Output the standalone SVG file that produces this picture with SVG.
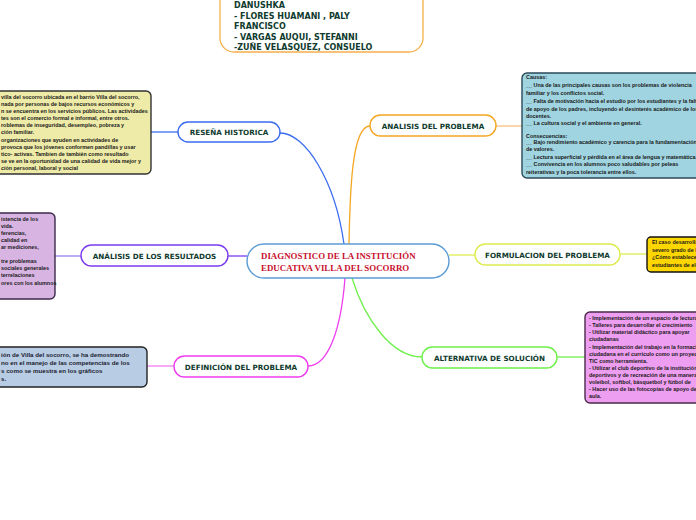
<svg xmlns="http://www.w3.org/2000/svg" width="696" height="520" viewBox="0 0 696 520">
<style>
.lbl{font-family:"DejaVu Sans",Verdana,sans-serif;font-weight:bold;font-size:7.2px;fill:#0f3b2e}
.top{font-family:"DejaVu Sans",Verdana,sans-serif;font-weight:bold;font-size:8px;fill:#0f3b2e}
.ctr{font-family:"Liberation Serif","Times New Roman",serif;font-weight:bold;font-size:8.9px;fill:#c8102e}
.sm{font-family:"Liberation Sans",Arial,sans-serif;font-weight:bold;font-size:5.4px;fill:#1a1a1a}
.md{font-family:"Liberation Sans",Arial,sans-serif;font-weight:bold;font-size:6.2px;fill:#1a1a2e}
.node{fill:#fff;stroke-width:1.4}
.box{stroke-width:1.4}
.cn{fill:none;stroke-width:1.3}
</style>
<rect width="696" height="520" fill="#fff"/>
<g id="connectors">
<path class="cn" stroke="#3b6cf0" d="M280,133 C305,133 335,180 344,244"/>
<path class="cn" stroke="#3b6cf0" d="M151,132 L178,132"/>
<path class="cn" stroke="#f5a623" d="M349,244 C350,190 352,126 370,126"/>
<path class="cn" stroke="#f5c07a" d="M496,126 L522,126"/>
<path class="cn" stroke="#7b3cf0" d="M228,256 L247,256"/>
<path class="cn" stroke="#9a7cf0" d="M55,256 L81,256"/>
<path class="cn" stroke="#dcec50" d="M449,255 L475,255"/>
<path class="cn" stroke="#dcec50" d="M620,254 L647,254"/>
<path class="cn" stroke="#6ef04a" d="M352,278 C365,320 392,357 422,357"/>
<path class="cn" stroke="#6ef04a" d="M557,357 L585,357"/>
<path class="cn" stroke="#f03cf0" d="M345,278 C341,330 328,366 308,366"/>
<path class="cn" stroke="#f07cf0" d="M147,366 L174,366"/>
</g>
<g id="authors">
<rect x="220" y="-20" width="203" height="72" rx="14" fill="#fff" stroke="#f6b04a" stroke-width="1.3"/>
<text class="top" x="234" y="8">DANUSHKA</text>
<text class="top" x="234" y="19">- FLORES HUAMANI , PALY</text>
<text class="top" x="234" y="29">FRANCISCO</text>
<text class="top" x="234" y="40">- VARGAS AUQUI, STEFANNI</text>
<text class="top" x="234" y="50">-ZUÑE VELASQUEZ, CONSUELO</text>
</g>
<g id="center">
<rect class="node" x="247" y="244" width="202" height="34" rx="17" stroke="#5b9bd5"/>
<text class="ctr" x="261" y="259">DIAGNOSTICO DE LA INSTITUCIÓN</text>
<text class="ctr" x="261" y="271">EDUCATIVA VILLA DEL SOCORRO</text>
</g>
<g id="resena">
<rect class="node" x="178" y="122" width="102" height="20" rx="10" stroke="#3b6cf0"/>
<text class="lbl" x="229" y="135" text-anchor="middle">RESEÑA HISTORICA</text>
</g>
<g id="resena-text">
<rect class="box" x="-6" y="91" width="157" height="83" rx="5" fill="#eeeaa8" stroke="#333"/>
<text class="sm" x="1" y="99">villa del socorro ubicada en el barrio Villa del socorro,</text>
<text class="sm" x="1" y="106">nada por personas de bajos recursos económicos y</text>
<text class="sm" x="1" y="113">n se encuentra en los servicios públicos. Las actividades</text>
<text class="sm" x="1" y="120">tes son el comercio formal e informal, entre otros.</text>
<text class="sm" x="1" y="127">roblemas de inseguridad, desempleo, pobreza y</text>
<text class="sm" x="1" y="134">ción familiar.</text>
<text class="sm" x="1" y="142">organizaciones que ayuden en actividades de</text>
<text class="sm" x="1" y="149">provoca que los jóvenes conformen pandillas y usar</text>
<text class="sm" x="1" y="156">tico- activas. Tambien de también como resultado</text>
<text class="sm" x="1" y="163">se ve en la oportunidad de una calidad de vida mejor y</text>
<text class="sm" x="1" y="170">ción personal, laboral y social</text>
</g>
<g id="analisis">
<rect class="node" x="370" y="115" width="126" height="21" rx="10.5" stroke="#f5a623"/>
<text class="lbl" x="433" y="128.5" text-anchor="middle">ANALISIS DEL PROBLEMA</text>
</g>
<g id="analisis-text">
<rect class="box" x="522" y="73" width="184" height="105" rx="5" fill="#9fd4e0" stroke="#2b4a5a"/>
<text class="sm" x="526" y="79">Causas:</text>
<text class="sm" x="526" y="87">__ Una de las principales causas son los problemas de violencia</text>
<text class="sm" x="526" y="95">familiar y los conflictos social.</text>
<text class="sm" x="526" y="103">__ Falta de motivación hacia el estudio por los estudiantes y la falta</text>
<text class="sm" x="526" y="111">de apoyo de los padres, incluyendo el desinterés académico de los</text>
<text class="sm" x="526" y="118">docentes.</text>
<text class="sm" x="526" y="125">__ La cultura social y el ambiente en general.</text>
<text class="sm" x="526" y="138">Consecuencias:</text>
<text class="sm" x="526" y="144">__ Bajo rendimiento académico y carencia para la fundamentación</text>
<text class="sm" x="526" y="151">de valores.</text>
<text class="sm" x="526" y="159">__ Lectura superficial y pérdida en el área de lengua y matemática.</text>
<text class="sm" x="526" y="166">__ Convivencia en los alumnos poco saludables por peleas</text>
<text class="sm" x="526" y="174">reiterativas y la poca tolerancia entre ellos.</text>
</g>
<g id="resultados">
<rect class="node" x="81" y="245" width="147" height="21" rx="10.5" stroke="#7b3cf0"/>
<text class="lbl" x="154.5" y="258.5" text-anchor="middle">ANÁLISIS DE LOS RESULTADOS</text>
</g>
<g id="resultados-text">
<rect class="box" x="-6" y="213" width="61" height="86" rx="5" fill="#d8b4e2" stroke="#3c2a4a"/>
<text class="sm" x="1" y="221">istencia de los</text>
<text class="sm" x="1" y="228">vida.</text>
<text class="sm" x="1" y="235">ferencias,</text>
<text class="sm" x="1" y="242"> calidad en</text>
<text class="sm" x="1" y="249">ar mediciones,</text>
<text class="sm" x="1" y="263">tre problemas</text>
<text class="sm" x="1" y="270">sociales generales</text>
<text class="sm" x="1" y="277">terrelaciones</text>
<text class="sm" x="1" y="285">ores con los alumnos</text>
</g>
<g id="formulacion">
<rect class="node" x="475" y="244" width="145" height="21" rx="10.5" stroke="#dcec50"/>
<text class="lbl" x="547.5" y="257.5" text-anchor="middle">FORMULACION DEL PROBLEMA</text>
</g>
<g id="formulacion-text">
<rect class="box" x="647" y="237" width="60" height="35" rx="4" fill="#ffd700" stroke="#111"/>
<text class="sm" x="652" y="244">El caso desarrollado</text>
<text class="sm" x="652" y="252">severo grado de la</text>
<text class="sm" x="652" y="259">¿Cómo establecer</text>
<text class="sm" x="652" y="267">estudiantes de el</text>
</g>
<g id="alternativa">
<rect class="node" x="422" y="347" width="135" height="21" rx="10.5" stroke="#6ef04a"/>
<text class="lbl" x="489.5" y="360.5" text-anchor="middle">ALTERNATIVA DE SOLUCIÓN</text>
</g>
<g id="alternativa-text">
<rect class="box" x="585" y="312" width="120" height="91" rx="5" fill="#ee9ef0" stroke="#4a2a4a"/>
<text class="sm" x="589" y="320">- Implementación de un espacio de lectura</text>
<text class="sm" x="589" y="327">- Talleres para desarrollar el crecimiento</text>
<text class="sm" x="589" y="334">- Utilizar material didáctico para apoyar</text>
<text class="sm" x="589" y="341">ciudadanas</text>
<text class="sm" x="589" y="349">- Implementación del trabajo en la formación</text>
<text class="sm" x="589" y="356">ciudadana en el currículo como un proyecto</text>
<text class="sm" x="589" y="363">TIC como herramienta.</text>
<text class="sm" x="589" y="370">- Utilizar el club deportivo de la institución</text>
<text class="sm" x="589" y="377">deportivos y de recreación de una manera</text>
<text class="sm" x="589" y="384">voleibol, softbol, básquetbol y fútbol de</text>
<text class="sm" x="589" y="391">- Hacer uso de las fotocopias de apoyo de</text>
<text class="sm" x="589" y="398">aula.</text>
</g>
<g id="definicion">
<rect class="node" x="174" y="356" width="134" height="21" rx="10.5" stroke="#f03cf0"/>
<text class="lbl" x="241" y="369.5" text-anchor="middle">DEFINICIÓN DEL PROBLEMA</text>
</g>
<g id="definicion-text">
<rect class="box" x="-6" y="347" width="153" height="40" rx="5" fill="#b8cce4" stroke="#222"/>
<text class="md" x="1" y="357">ión de Villa del socorro, se ha demostrando</text>
<text class="md" x="1" y="365">no en el manejo de las competencias de los</text>
<text class="md" x="1" y="373">s como se muestra en los gráficos</text>
<text class="md" x="1" y="381">s.</text>
</g>
</svg>
